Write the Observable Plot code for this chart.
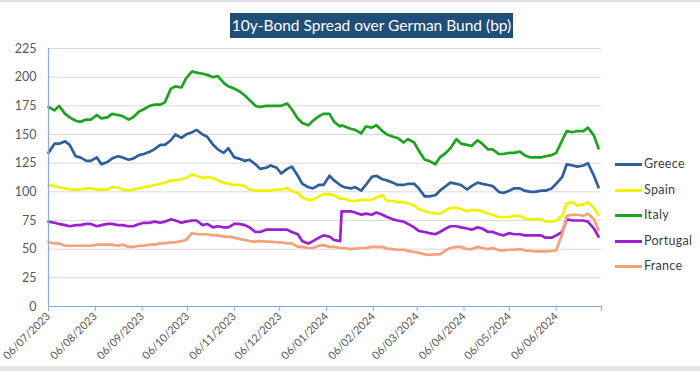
<!DOCTYPE html>
<html>
<head>
<meta charset="utf-8">
<script src="https://cdn.jsdelivr.net/npm/d3@7"></script>
<script src="https://cdn.jsdelivr.net/npm/@observablehq/plot@0.6"></script>
<style>
  html, body { margin: 0; padding: 0; background: #fff; }
  #wrap { position: relative; width: 700px; height: 371px; overflow: hidden; font-family: Lato, "Open Sans", sans-serif; }
  #topline { position: absolute; left: 0; top: 0; width: 700px; height: 2px; background: #dcdde6; }
  #bottomband { position: absolute; left: 0; top: 366px; width: 700px; height: 5px; background: #e6e6e6; }
  #title { position: absolute; left: 230px; top: 13px; width: 283px; height: 25px; background: #1f4e79; color: #fff;
           font-size: 15.5px; line-height: 25px; text-align: center; white-space: nowrap; }
  #legend { position: absolute; left: 615px; top: 0; }
  .lg { position: absolute; left: 0; width: 90px; height: 16px; }
  .lg .sw { position: absolute; left: 0; top: 6.5px; width: 27px; height: 3px; }
  .lg .tx { position: absolute; left: 29px; top: 0; font-size: 12.5px; line-height: 16px; color: #404040; letter-spacing: 0.3px; }
  svg { position: absolute; left: 0; top: 0; }
</style>
</head>
<body>
<div id="wrap">
  <div id="chart"></div>
  <div id="topline"></div>
  <div id="bottomband"></div>
  <div id="title"></div>
  <div id="legend"></div>
</div>
<script>
const titleText = "10y-Bond Spread over German Bund (bp)";

const dates = [
  "2023-07-06","2023-07-10","2023-07-13","2023-07-17","2023-07-20","2023-07-24","2023-07-27","2023-07-31",
  "2023-08-03","2023-08-07","2023-08-10","2023-08-14","2023-08-17","2023-08-21","2023-08-24","2023-08-28",
  "2023-08-31","2023-09-04","2023-09-07","2023-09-11","2023-09-14","2023-09-18","2023-09-21","2023-09-25",
  "2023-09-28","2023-10-02",
  "2023-10-05","2023-10-09","2023-10-12","2023-10-16","2023-10-19","2023-10-23","2023-10-26","2023-10-30",
  "2023-11-02","2023-11-06","2023-11-09","2023-11-13","2023-11-16","2023-11-20","2023-11-23","2023-11-27",
  "2023-11-30","2023-12-04","2023-12-07","2023-12-11","2023-12-14","2023-12-18","2023-12-21","2023-12-25",
  "2023-12-28","2024-01-01",
  "2024-01-04","2024-01-08","2024-01-11","2024-01-15","2024-01-16",
  "2024-01-18","2024-01-22","2024-01-25","2024-01-29","2024-02-01","2024-02-05","2024-02-08","2024-02-12",
  "2024-02-15","2024-02-19","2024-02-22","2024-02-26","2024-02-29","2024-03-04","2024-03-07","2024-03-11",
  "2024-03-14","2024-03-18","2024-03-21","2024-03-25",
  "2024-03-28","2024-04-01","2024-04-04","2024-04-08","2024-04-11","2024-04-15","2024-04-18","2024-04-22",
  "2024-04-25","2024-04-29","2024-05-02","2024-05-06","2024-05-09","2024-05-13","2024-05-16","2024-05-20",
  "2024-05-23","2024-05-27","2024-05-30","2024-06-03","2024-06-06","2024-06-10","2024-06-13","2024-06-17",
  "2024-06-20","2024-06-24","2024-06-27","2024-07-01","2024-07-04"
];

const italy = [
  174,171,175,168,165,162,161,163, 163,167,164,165,168,167,166,163, 165,170,172,175,176,176,178,190, 192,191,
  199,205,204,203,202,200,201,195, 192,190,188,184,180,175,174,175, 175,175,175,177,172,164,160,158, 162,166,
  168,168,161,157,158,
  157,155,154,151,157,156,158,153, 150,148,147,143,146,143,136,128, 127,124,130,134,
  138,146,142,141,140,145,142,137, 137,133,133,134,134,135,132,130, 130,130,131,132,134,145,153,152, 153,153,156,149,138
];
const greece = [
  134,142,142,144,141,131,130,127, 127,130,124,126,129,131,130,128, 129,132,133,135,137,141,141,145, 150,147,
  150,152,154,150,148,141,137,134, 138,130,129,127,128,124,120,121, 123,121,116,120,122,114,107,104, 103,106,
  106,114,110,106,105,
  104,103,104,101,106,113,114,111, 110,108,106,106,107,107,103,96, 96,97,101,105,
  108,107,106,102,105,108,107,106, 105,100,99,101,103,103,101,100, 100,101,101,103,107,113,124,123, 122,123,125,114,104
];
const spain = [
  106,105,104,103,102,102,102,103, 103,102,102,102,104,104,102,101, 102,103,104,105,106,107,108,110, 110,111,
  112,115,114,112,113,112,110,108, 107,106,106,105,102,101,101,101, 101,102,102,103,101,99,95,93, 93,96,
  98,98,97,94,94,
  94,92,92,93,93,93,95,97, 92,92,91,91,90,88,85,83, 82,81,81,84,
  86,86,85,83,84,84,83,81, 80,78,78,78,79,79,77,76, 76,76,74,74,75,79,90,91, 88,89,91,86,80
];
const portugal = [
  74,73,72,71,70,71,71,72, 72,70,71,72,72,71,71,70, 70,72,73,73,74,73,74,76, 75,73,
  74,75,75,71,72,69,70,69, 69,72,72,71,69,65,65,67, 67,67,67,67,65,63,57,55, 57,60,
  62,61,58,57,83,
  83,83,82,80,81,80,82,80, 78,76,75,74,72,69,66,65, 64,63,65,68,
  70,70,69,68,67,69,68,65, 65,63,62,64,63,63,62,62, 62,62,60,60,62,65,76,75, 75,75,74,68,61
];
const france = [
  56,55,55,53,53,53,53,53, 53,54,54,54,54,53,54,52, 52,53,53,54,54,55,55,56, 56,57,
  58,64,63,63,63,62,62,61, 61,60,59,58,57,56.5,57,56.5, 56.5,56,56,55,55,52,52,51, 51,53,
  53.5,52,52,51,51,
  51,50,50.5,51,51,52,52,52, 50.5,50,49.5,49.5,48.5,47.5,47,45.5, 45,45.5,45.5,49,
  51,52,52,50,50,52,51,50, 51,49,49,49.5,49.5,50,49,48.5, 48,48,48,48.5,49,63,79,80, 80,79,81,76,67
];

const seriesNames = ["Greece","Spain","Italy","Portugal","France"];
const seriesColors = ["#2f5f9e","#f2f200","#1fa31f","#9c1fd1","#f4a27a"];
const seriesValues = [greece, spain, italy, portugal, france];

const yTicks = [0,25,50,75,100,125,150,175,200,225];
const xTickDates = ["2023-07-06","2023-08-06","2023-09-06","2023-10-06","2023-11-06","2023-12-06",
  "2024-01-06","2024-02-06","2024-03-06","2024-04-06","2024-05-06","2024-06-06","2024-07-06"];
const xTickLabels = ["06/07/2023","06/08/2023","06/09/2023","06/10/2023","06/11/2023","06/12/2023",
  "06/01/2024","06/02/2024","06/03/2024","06/04/2024","06/05/2024","06/06/2024",""];

const parse = d3.utcParse("%Y-%m-%d");
const rows = [];
seriesNames.forEach((name, k) => {
  const vals = seriesValues[k];
  const n = Math.min(vals.length, dates.length);
  for (let i = 0; i < n; i++) rows.push({date: parse(dates[i]), value: vals[i], series: name});
});
const tickDates = xTickDates.map(parse);
const x0 = tickDates[0], x1 = tickDates[tickDates.length - 1];
const axisColor = "#8eaadb";

const chart = Plot.plot({
  width: 700,
  height: 371,
  marginLeft: 48,
  marginRight: 99,
  marginTop: 48,
  marginBottom: 65,
  style: {fontFamily: "Lato, 'Open Sans', sans-serif", fontSize: "12px", color: "#595959", background: "transparent", overflow: "visible"},
  x: {type: "utc", domain: [x0, x1]},
  y: {domain: [0, 225]},
  color: {domain: seriesNames, range: seriesColors},
  marks: [
    Plot.gridY(yTicks.filter(t => t > 0), {stroke: "#d9d9d9", strokeOpacity: 1, strokeWidth: 1}),
    Plot.axisY(yTicks, {tickSize: 0, tickPadding: 12, fontSize: 12.5, label: null}),
    Plot.line(rows, {x: "date", y: "value", z: "series", stroke: "series", strokeWidth: 2.7, strokeLinejoin: "round", curve: "linear"}),
    Plot.ruleX([x0], {y1: 0, y2: 225, stroke: axisColor, strokeWidth: 1.2}),
    Plot.ruleY([0], {stroke: axisColor, strokeWidth: 1.2}),
    Plot.axisX(tickDates, {tickSize: 5, stroke: axisColor, tickRotate: -45, tickPadding: 3, fontSize: 11,
      tickFormat: (d, i) => xTickLabels[i], label: null})
  ]
});
document.getElementById("chart").appendChild(chart);

document.getElementById("title").textContent = titleText;
const legend = document.getElementById("legend");
const legendTops = [156, 182, 207, 233, 258];
seriesNames.forEach((name, k) => {
  const row = document.createElement("div");
  row.className = "lg";
  row.style.top = legendTops[k] + "px";
  row.innerHTML = `<div class="sw" style="background:${seriesColors[k]}"></div><div class="tx">${name}</div>`;
  legend.appendChild(row);
});
const bad = seriesValues.map((v, k) => v.length !== dates.length ? seriesNames[k] + ":" + v.length + "/" + dates.length : null).filter(Boolean);
if (bad.length) {
  const e = document.createElement("div");
  e.style.cssText = "position:absolute;left:60px;top:50px;color:red;font-size:12px";
  e.textContent = "LENGTH MISMATCH " + bad.join(" ");
  document.getElementById("wrap").appendChild(e);
}
</script>
</body>
</html>
